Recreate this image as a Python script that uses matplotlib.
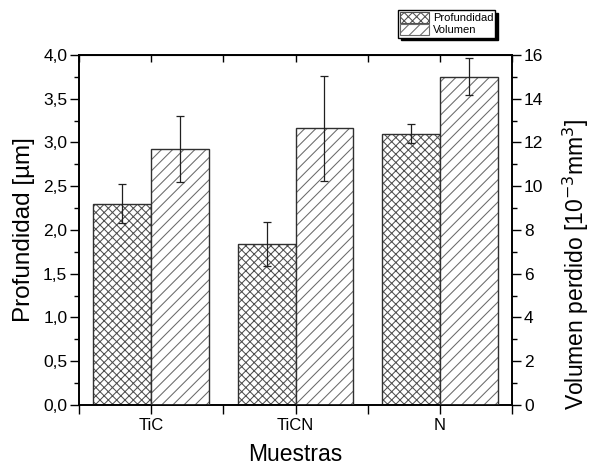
import matplotlib
matplotlib.use("Agg")
import matplotlib.pyplot as plt
import numpy as np
from matplotlib.patches import Patch
from matplotlib.ticker import FuncFormatter, MultipleLocator

plt.rcParams["font.family"] = ["Liberation Sans", "DejaVu Sans"]
plt.rcParams["hatch.linewidth"] = 0.75

# data
muestras = ["TiC", "TiCN", "N"]
profundidad = [2.30, 1.84, 3.10]       # um
profundidad_err = [0.22, 0.25, 0.11]
volumen = [11.7, 12.65, 15.0]          # 10^-3 mm^3
volumen_err = [1.5, 2.4, 0.85]

x = np.arange(1, len(muestras) + 1)
w = 0.4
cross_col = "#505050"
diag_col = "#6a6a6a"
edge_col = "#303030"

fig = plt.figure(figsize=(5.9, 4.68), dpi=100)
ax = fig.add_axes([0.134, 0.1346, 0.734, 0.748])
ax2 = ax.twinx()

# left bars: depth (crosshatch)
ax.bar(x - w / 2, profundidad, w, color="white", edgecolor=cross_col,
       hatch="xxxx", linewidth=0, zorder=2)
ax.bar(x - w / 2, profundidad, w, fill=False, edgecolor=edge_col,
       linewidth=1.0, zorder=3)
ax.errorbar(x - w / 2, profundidad, yerr=profundidad_err, fmt="none",
            ecolor="#202020", elinewidth=0.9, capsize=3, capthick=0.9, zorder=4)

# right bars: lost volume (diagonal)
ax2.bar(x + w / 2, volumen, w, color="white", edgecolor=diag_col,
        hatch="///", linewidth=0, zorder=2)
ax2.bar(x + w / 2, volumen, w, fill=False, edgecolor=edge_col,
        linewidth=1.0, zorder=3)
ax2.errorbar(x + w / 2, volumen, yerr=volumen_err, fmt="none",
             ecolor="#202020", elinewidth=0.9, capsize=3, capthick=0.9, zorder=4)

ax.set_xlim(0.5, 3.5)
ax.set_ylim(0, 4.0)
ax2.set_ylim(0, 16)

# bottom ticks every 0.5, labels only on the samples
bt = np.arange(0.5, 3.51, 0.5)
ax.set_xticks(bt)
ax.set_xticklabels([muestras[int(t) - 1] if t == int(t) else "" for t in bt])
ax.tick_params(axis="x", direction="out", length=6.5, width=1, labelsize=12, pad=3)

top = ax.secondary_xaxis("top")
top.set_xticks(bt)
top.tick_params(direction="in", length=5, width=1, labeltop=False)

ax.yaxis.set_major_locator(MultipleLocator(0.5))
ax.yaxis.set_minor_locator(MultipleLocator(0.25))
ax.yaxis.set_major_formatter(FuncFormatter(lambda v, p: f"{v:.1f}".replace(".", ",")))
ax.tick_params(axis="y", which="major", direction="out", length=6.5, width=1,
               labelsize=12.5, pad=2)
ax.tick_params(axis="y", which="minor", direction="out", length=3.5, width=1)

ax2.yaxis.set_major_locator(MultipleLocator(2))
ax2.yaxis.set_minor_locator(MultipleLocator(1))
ax2.tick_params(axis="y", which="major", direction="out", length=6.5, width=1,
                labelsize=12.5, pad=2)
ax2.tick_params(axis="y", which="minor", direction="out", length=3.5, width=1)

for a in (ax, ax2):
    for s in a.spines.values():
        s.set_linewidth(1.2)
        s.set_color("black")

ax.set_xlabel("Muestras", fontsize=16.5, labelpad=7)
ax.set_ylabel("Profundidad [µm]", fontsize=17.5, labelpad=6)
ax2.set_ylabel(r"Volumen perdido [10$^{-3}$mm$^{3}$]", fontsize=16.5)
ax2.yaxis.set_label_coords(1.113, 0.403)

handles = [
    Patch(facecolor="white", edgecolor=cross_col, hatch="xxxx", linewidth=0.8),
    Patch(facecolor="white", edgecolor=diag_col, hatch="///", linewidth=0.8),
]
leg = fig.legend(handles, ["Profundidad", "Volumen"], loc="upper left",
                 bbox_to_anchor=(0.675, 0.979), fontsize=8, frameon=True,
                 fancybox=False, framealpha=1, edgecolor="black",
                 shadow={"color": "black", "alpha": 1},
                 handlelength=2.6, handleheight=1.1, labelspacing=0.1,
                 borderpad=0.2, handletextpad=0.3, borderaxespad=0)
leg.get_frame().set_linewidth(1.0)

fig.savefig("out.png", dpi=100)
